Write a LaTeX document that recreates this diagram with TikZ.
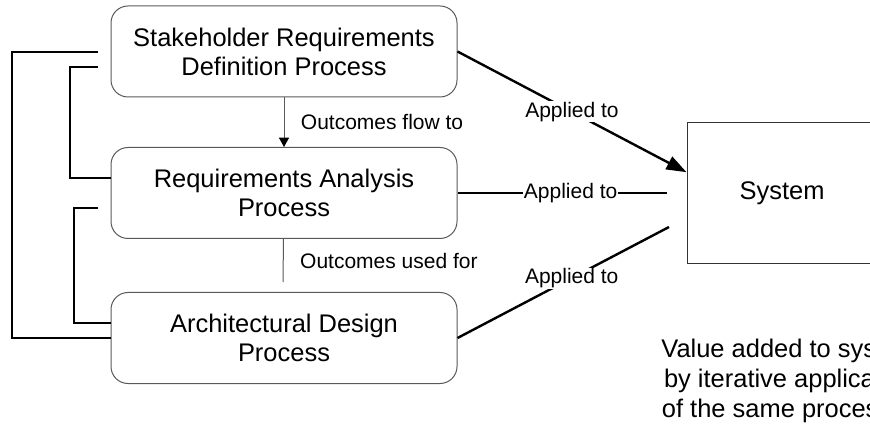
\documentclass[tikz,border=0pt]{standalone}
\usepackage{fontspec}
\setmainfont{Liberation Sans}
\usetikzlibrary{arrows.meta,calc}
\tikzset{
  process/.style={draw=black!65,line width=0.75pt,rounded corners=12.75pt,
    minimum width=259.5pt,minimum height=68.25pt,align=center,inner sep=0pt,
    font=\fontsize{19.1pt}{21.75pt}\selectfont},
  sysbox/.style={draw=black!80,line width=0.75pt,minimum width=142.5pt,
    minimum height=105.75pt,inner sep=0pt,font=\fontsize{19.1pt}{21.75pt}\selectfont},
  flowlabel/.style={right,text=black,font=\fontsize{15.75pt}{18pt}\selectfont},
  applied/.style={fill=white,inner sep=0.5pt,font=\fontsize{15.75pt}{18pt}\selectfont},
  feedback/.style={line width=1.8pt},
}
\begin{document}
\begin{tikzpicture}[x=0.75pt,y=-0.75pt]
  \useasboundingbox (0,0) rectangle (870,427);
  % the three processes
  \node[process] (shrd) at (284,51.5) {Stakeholder Requirements\\Definition Process};
  \node[process] (ra) at (284,193) {Requirements Analysis\\Process};
  \node[process] (ad) at (284,338) {Architectural Design\\Process};
  % the system
  \node[sysbox] (sys) at (782,193.5) {System};
  \node[align=center,font=\fontsize{19.1pt}{22.5pt}\selectfont] (value) at (790,381)
    {Value added to system\\by iterative application\\of the same processes};
  % outcomes between processes
  \draw[black!65,line width=0.75pt,-{Triangle[length=7pt,width=7.5pt,black]}] (shrd) -- node[flowlabel,xshift=9pt] {Outcomes flow to} (ra);
  \coordinate (used) at (283,282);
  \draw[black!65,line width=0.75pt] (ra) -- node[flowlabel,xshift=9pt] {Outcomes used for} (used);
  % applied to the system
  \coordinate (sysin) at ($(sys.north west)!0.35!(sys.south west)$);
  \coordinate (raend) at (667,193);
  \coordinate (adend) at (669,227);
  \draw[line width=1.8pt,-{Triangle[length=15pt,width=10.5pt]}] (shrd.east) -- node[applied] {Applied to} (sysin);
  \draw[line width=1.8pt] (ra.east) -- node[applied,pos=0.54] {Applied to} (raend);
  \draw[line width=1.8pt] (ad.east) -- node[applied,pos=0.54] {Applied to} (adend);
  % iteration loops
  \coordinate (fbout) at (98,52);
  \coordinate (fbra) at (98,67);
  \coordinate (fbad) at (98,208);
  \draw[feedback] (fbout) -- (12,52) |- (ad.west);
  \draw[feedback] (fbra) -- (70,67) |- ($(ra.west)+(0,-15)$);
  \draw[feedback] (fbad) -- (74,208) |- ($(ad.west)+(0,-15)$);
\end{tikzpicture}
\end{document}
